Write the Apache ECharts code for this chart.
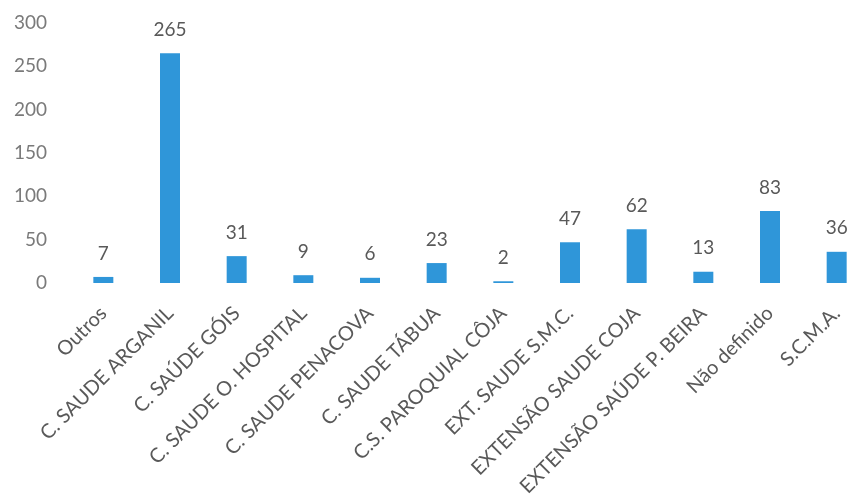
<!DOCTYPE html>
<html><head><meta charset="utf-8">
<script src="https://cdn.jsdelivr.net/npm/echarts@6/dist/echarts.min.js"></script>
<style>html,body{margin:0;padding:0;background:#fff}#c{width:848px;height:498px}</style>
</head><body><div id="c"></div>
<script>
const categories = ["Outros","C. SAUDE ARGANIL","C. SAÚDE GÓIS","C. SAUDE O. HOSPITAL","C. SAUDE PENACOVA","C. SAUDE TÁBUA","C.S. PAROQUIAL CÔJA","EXT. SAUDE S.M.C.","EXTENSÃO SAUDE COJA","EXTENSÃO SAÚDE P. BEIRA","Não definido","S.C.M.A."];
const values = [7,265,31,9,6,23,2,47,62,13,83,36];
const yTicks = [0,50,100,150,200,250,300];
const chart = echarts.init(document.getElementById('c'));
chart.setOption({
  animation:false,
  grid:{left:70,top:23,width:800,height:260,containLabel:false,outerBoundsMode:'none'},
  xAxis:{type:'category',data:categories,
    axisLine:{show:false},axisTick:{show:false},
    axisLabel:{rotate:45,interval:0,color:'#595959',fontFamily:'Lato, "Open Sans", sans-serif',fontSize:20,margin:27}},
  yAxis:{type:'value',min:yTicks[0],max:yTicks[yTicks.length-1],interval:50,
    splitLine:{show:false},axisLine:{show:false},axisTick:{show:false},
    axisLabel:{color:'#7a7a7a',fontFamily:'Lato, "Open Sans", sans-serif',fontSize:19,margin:23}},
  series:[{type:'bar',data:values,barWidth:20,
    itemStyle:{color:'#2f96d9'},
    label:{show:true,position:'top',distance:14,color:'#595959',fontFamily:'Lato, "Open Sans", sans-serif',fontSize:19}}]
});
</script></body></html>
